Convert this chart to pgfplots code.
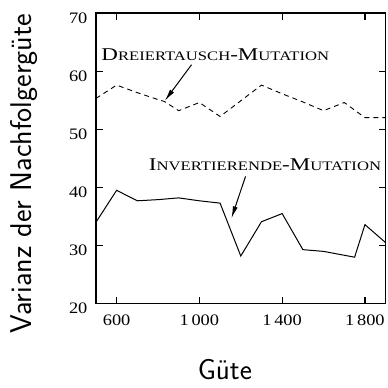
\documentclass[border=0pt]{standalone}
\usepackage{fontspec}
\setmainfont{Liberation Serif}
\newfontfamily\annotfont[FakeStretch=1.28]{Liberation Serif}
\newfontfamily\tickfont[FakeStretch=1.15]{Liberation Serif}
\newfontfamily\labfont{Latin Modern Sans}
\usepackage{pgfplots}
\pgfplotsset{compat=1.18}
\usetikzlibrary{arrows.meta}
\newcommand{\bigc}{\fontsize{18}{18}\selectfont}
\newcommand{\smc}{\fontsize{13}{13}\selectfont}
\begin{document}
\begin{tikzpicture}
\begin{axis}[
  scale only axis, width=290pt, height=291pt,
  xmin=500, xmax=1900, ymin=20, ymax=70,
  xtick={600,1000,1400,1800},
  ytick={20,30,40,50,60,70},
  tick align=inside, major tick length=7pt,
  axis line style={line width=1.3pt},
  every tick/.style={line width=1.2pt, black},
  /pgf/number format/assume math mode=true,
  /pgf/number format/1000 sep={\,},
  tick label style={font=\tickfont\fontsize{16}{16}\selectfont},
  yticklabel style={yshift=-5pt, xshift=-5pt},
  xticklabel style={yshift=-8pt},
  xlabel={Güte},
  ylabel={Varianz der Nachfolgergüte},
  xlabel style={font=\labfont\fontsize{29}{29}\selectfont, inner sep=0pt, at={(rel axis cs:0.445,0)}, anchor=base, yshift=-76pt},
  ylabel style={font=\labfont\fontsize{30}{30}\selectfont, inner sep=0pt, at={(rel axis cs:0,0.447)}, anchor=base, yshift=64pt},
]
\addplot[black, line width=0.9pt, dash pattern=on 5pt off 4pt] coordinates {
 (500,55.3) (600,57.6) (700,56.3) (800,55.1) (830,54.8) (900,53.2) (1000,54.6) (1100,52.2)
 (1200,54.9) (1300,57.6) (1400,56.1) (1500,54.7) (1600,53.2) (1700,54.6) (1800,52.0) (1900,52.0)
};
\addplot[black, line width=1pt] coordinates {
 (500,34.0) (600,39.5) (700,37.7) (800,37.9) (900,38.2) (1000,37.7) (1100,37.3) (1200,28.2)
 (1300,34.1) (1400,35.5) (1500,29.3) (1600,29.0) (1750,28.0) (1800,33.6) (1900,30.5)
};
\node at (axis cs:1077,62.8) {\annotfont\bigc D\smc REIERTAUSCH\bigc-M\smc UTATION};
\draw[line width=1pt, -{Latex[length=12pt,width=5pt]}] (axis cs:962,61.1) -- (axis cs:833,54.9);
\node at (axis cs:1317,43.9) {\annotfont\bigc I\smc NVERTIERENDE\bigc-M\smc UTATION};
\draw[line width=1pt, -{Latex[length=12pt,width=5pt]}] (axis cs:1223,41.9) -- (axis cs:1155,34.7);
\end{axis}
\path ([shift={(-96pt,-84pt)}]current axis.south west) rectangle ([shift={(1pt,13pt)}]current axis.north east);
\end{tikzpicture}
\end{document}
